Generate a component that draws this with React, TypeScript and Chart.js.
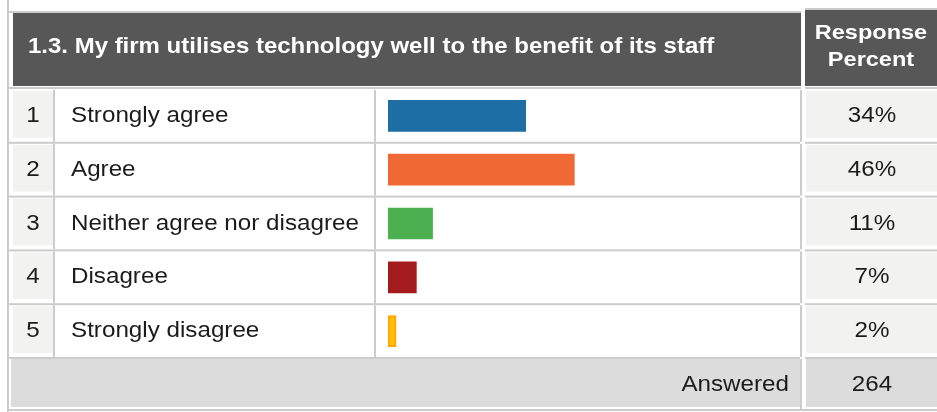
import React, { useEffect, useRef } from "react";
import { Chart, registerables } from "chart.js";

Chart.register(...registerables);

const title = "1.3. My firm utilises technology well to the benefit of its staff";
const columnHeader = ["Response", "Percent"];
const rowNumbers = ["1", "2", "3", "4", "5"];
const categories = [
  "Strongly agree",
  "Agree",
  "Neither agree nor disagree",
  "Disagree",
  "Strongly disagree",
];
const responsePercent = [34, 46, 11, 7, 2];
const answeredLabel = "Answered";
const answeredCount = 264;

const barColors = ["#1c6ea4", "#f06833", "#4caf50", "#a51c1f", "#ffc000"];
const barBorderColors = ["#1c6ea4", "#f06833", "#4caf50", "#a51c1f", "#ffa500"];
const barBorderWidths = [0, 0, 0, 0, 2];

const FONT = '"Liberation Sans", Arial, Helvetica, sans-serif';
const GRID = "#cccccc";
const HEADER = "#575757";
const CELL = "#f2f2f1";
const FOOT = "#dcdcdc";
const TEXT = "#1b1b1b";

function drawText(
  ctx: CanvasRenderingContext2D,
  text: string,
  x: number,
  y: number,
  align: CanvasTextAlign,
  font: string,
  color: string,
  sx = 1.1
) {
  ctx.save();
  ctx.translate(x, y);
  ctx.scale(sx, 1);
  ctx.font = font;
  ctx.fillStyle = color;
  ctx.textAlign = align;
  ctx.textBaseline = "alphabetic";
  ctx.fillText(text, 0, 0);
  ctx.restore();
}

const tablePlugin = {
  id: "surveyTable",
  beforeDatasetsDraw(chart: any) {
    const ctx: CanvasRenderingContext2D = chart.ctx;
    const y = chart.scales.y;
    const c0 = y.getPixelForValue(0);
    const step = y.getPixelForValue(1) - c0;
    const top = c0 - step / 2;
    const W = chart.width;
    const H = chart.height;
    ctx.save();
    ctx.fillStyle = "#ffffff";
    ctx.fillRect(0, 0, W, H);

    ctx.fillStyle = GRID;
    // outer left line
    ctx.fillRect(7, 0, 2, H);
    // header borders
    ctx.fillRect(9, 11, 792, 2);
    ctx.fillRect(805, 8, W - 805, 2);
    // header fills
    ctx.fillStyle = HEADER;
    ctx.fillRect(13, 13, 788, 73);
    ctx.fillRect(805, 10, W - 805, 76);
    // line under header
    ctx.fillStyle = GRID;
    ctx.fillRect(9, top - 2, 792, 2);
    ctx.fillRect(805, top - 2, W - 805, 2);

    const numFont = `22px ${FONT}`;
    for (let i = 0; i < categories.length; i++) {
      const rt = top + i * step;
      const rb = rt + step;
      const cy = rt + step / 2;
      ctx.fillStyle = CELL;
      ctx.fillRect(13, rt + 2, 40, step - 7);
      ctx.fillRect(806, rt + 2, W - 806, step - 7);
      ctx.fillStyle = GRID;
      ctx.fillRect(53, rt + 1, 2, step - 2);
      ctx.fillRect(374, rt + 1, 2, step - 2);
      ctx.fillRect(800, rt + 1, 2, step - 2);
      ctx.fillRect(9, rb - 1, 791, 2);
      ctx.fillRect(805, rb - 1, W - 805, 2);

      drawText(ctx, rowNumbers[i], 33, cy + 6, "center", numFont, TEXT);
      drawText(ctx, categories[i], 71, cy + 6, "left", numFont, TEXT);
      drawText(ctx, `${responsePercent[i]}%`, 872, cy + 6, "center", numFont, TEXT);
    }

    // Answered row
    const ab = top + categories.length * step;
    ctx.fillStyle = FOOT;
    ctx.fillRect(11, ab + 1, 789, 48);
    ctx.fillRect(806, ab + 1, W - 806, 48);
    ctx.fillStyle = GRID;
    ctx.fillRect(800, ab + 1, 2, 51);
    ctx.fillRect(9, ab + 51, W - 9, 2);
    const acy = ab + 25;
    drawText(ctx, answeredLabel, 789, acy + 8, "right", numFont, TEXT);
    drawText(ctx, String(answeredCount), 872, acy + 8, "center", numFont, TEXT);

    // header texts
    drawText(ctx, title, 28, 53, "left", `bold 22px ${FONT}`, "#ffffff", 1.09);
    drawText(ctx, columnHeader[0], 871, 39, "center", `bold 21px ${FONT}`, "#ffffff", 1.12);
    drawText(ctx, columnHeader[1], 871, 66, "center", `bold 21px ${FONT}`, "#ffffff", 1.12);
    ctx.restore();
  },
};

export default function App() {
  const ref = useRef<HTMLCanvasElement | null>(null);
  useEffect(() => {
    if (!ref.current) return;
    const chart = new Chart(ref.current, {
      type: "bar",
      data: {
        labels: categories,
        datasets: [
          {
            data: responsePercent,
            backgroundColor: barColors,
            borderColor: barBorderColors,
            borderWidth: barBorderWidths,
            borderSkipped: false,
            barThickness: 31,
          },
        ],
      },
      options: {
        indexAxis: "y",
        responsive: false,
        animation: false,
        events: [],
        layout: { padding: { left: 388, right: 144, top: 89, bottom: 54 } },
        scales: {
          x: { display: false, min: 0, max: 100 },
          y: { display: false },
        },
        plugins: {
          legend: { display: false },
          tooltip: { enabled: false },
        },
      },
      plugins: [tablePlugin],
    } as any);
    return () => chart.destroy();
  }, []);
  return (
    <div style={{ position: "absolute", left: 0, top: 0, width: 937, height: 412 }}>
      <canvas ref={ref} width={937} height={412} style={{ display: "block", width: 937, height: 412 }} />
    </div>
  );
}
